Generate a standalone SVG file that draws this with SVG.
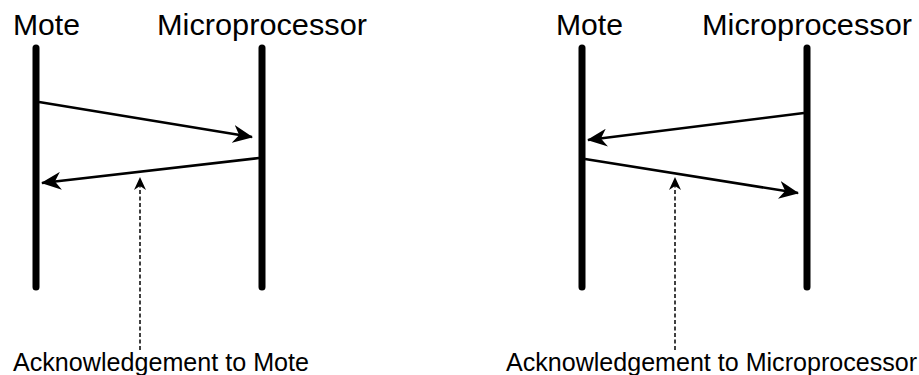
<svg xmlns="http://www.w3.org/2000/svg" width="919" height="375" viewBox="0 0 919 375">
  <style>
    .bg { fill: #ffffff; }
    .life { stroke: #000; stroke-width: 7; stroke-linecap: round; fill: none; }
    .msg { stroke: #000; stroke-width: 2.6; fill: none; }
    .note { stroke: #000; stroke-width: 1.5; stroke-dasharray: 4 2.5; fill: none; }
    .head { font-family: "Liberation Sans", Arial, sans-serif; font-size: 29px; fill: #000; }
    .cap { font-family: "Liberation Sans", Arial, sans-serif; font-size: 25px; fill: #000; }
  </style>
  <defs>
    <marker id="arrow" viewBox="0 0 20 18" refX="19" refY="9" markerWidth="20" markerHeight="18" markerUnits="userSpaceOnUse" orient="auto">
      <path d="M0,0 L20,9 L0,18 L6,9 Z" fill="#000"/>
    </marker>
  </defs>
  <rect class="bg" x="0" y="0" width="919" height="375"/>

  <!-- Left sequence: message to microprocessor, then acknowledgement back to mote -->
  <g id="mote-left">
    <text class="head" x="13" y="35" textLength="67" lengthAdjust="spacingAndGlyphs">Mote</text>
    <line class="life" x1="36" y1="48" x2="36" y2="287"/>
  </g>
  <g id="micro-left">
    <text class="head" x="157" y="35" textLength="210" lengthAdjust="spacingAndGlyphs">Microprocessor</text>
    <line class="life" x1="262" y1="48" x2="262" y2="287"/>
  </g>
  <g id="ack-mote">
    <text class="cap" x="13" y="371" textLength="296" lengthAdjust="spacingAndGlyphs">Acknowledgement to Mote</text>
  </g>

  <!-- Right sequence: message to mote, then acknowledgement back to microprocessor -->
  <g id="mote-right">
    <text class="head" x="556" y="35" textLength="67" lengthAdjust="spacingAndGlyphs">Mote</text>
    <line class="life" x1="582" y1="48" x2="582" y2="287"/>
  </g>
  <g id="micro-right">
    <text class="head" x="702" y="35" textLength="210" lengthAdjust="spacingAndGlyphs">Microprocessor</text>
    <line class="life" x1="807" y1="48" x2="807" y2="287"/>
  </g>
  <g id="ack-micro">
    <text class="cap" x="506" y="371" textLength="411" lengthAdjust="spacingAndGlyphs">Acknowledgement to Microprocessor</text>
  </g>

  <g id="connectors">
    <line class="msg" x1="39" y1="102" x2="252" y2="137" marker-end="url(#arrow)"/>
    <line class="msg" x1="259" y1="158" x2="42" y2="183" marker-end="url(#arrow)"/>
    <line class="note" x1="140" y1="350" x2="140" y2="180"/>
    <path d="M140,177 l6,13 l-6,-4 l-6,4 Z" fill="#000"/>

    <line class="msg" x1="804" y1="113" x2="588" y2="140" marker-end="url(#arrow)"/>
    <line class="msg" x1="585" y1="159" x2="798" y2="193" marker-end="url(#arrow)"/>
    <line class="note" x1="675" y1="350" x2="675" y2="180"/>
    <path d="M675,177 l6,13 l-6,-4 l-6,4 Z" fill="#000"/>
  </g>
</svg>
